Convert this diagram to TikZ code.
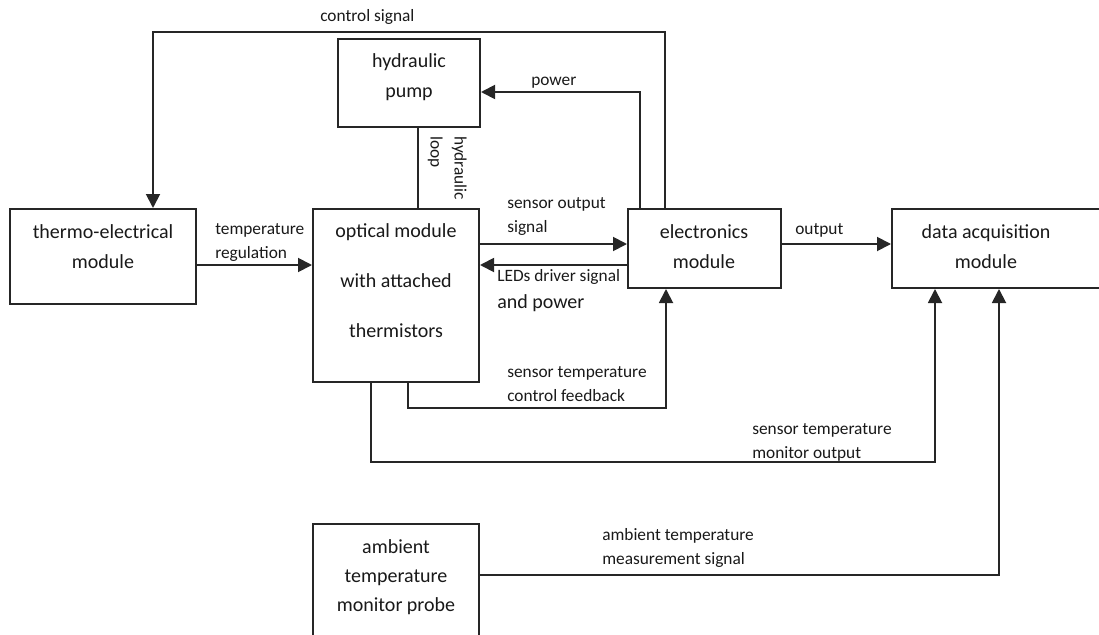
\documentclass[tikz,border=0pt]{standalone}
\usepackage{fontspec}
\setmainfont{Carlito}
\usetikzlibrary{arrows.meta}
\tikzset{
  blk/.style={draw=black!85, line width=1.5pt, fill=white, inner sep=0pt},
  btxt/.style={font=\fontsize{15}{22.5}\selectfont, align=center, text=black!90, inner sep=0pt},
  lbl/.style={font=\fontsize{13}{18}\selectfont, align=left, text=black!90, inner sep=0pt, anchor=west},
  conn/.style={line width=1.4pt, draw=black!85},
  arr/.style={conn, -{Triangle[length=10.5pt,width=10.5pt]}},
}
\begin{document}
\begin{tikzpicture}[x=0.75pt,y=-0.75pt]
\useasboundingbox (0,0) rectangle (1099,635);
% boxes
\node[blk, minimum width=142*0.75pt, minimum height=88*0.75pt] (pump) at (409,83) {};
\node[blk, minimum width=186*0.75pt, minimum height=95*0.75pt] (thermo) at (103,256.5) {};
\node[blk, minimum width=166*0.75pt, minimum height=173*0.75pt] (optical) at (396,295.5) {};
\node[blk, minimum width=153*0.75pt, minimum height=79*0.75pt] (elec) at (704.5,248.5) {};
\node[blk, minimum width=210*0.75pt, minimum height=79*0.75pt] (daq) at (997,248.5) {};
\node[blk, minimum width=166*0.75pt, minimum height=120*0.75pt] (probe) at (396,584) {};
% box texts
\node[btxt] (pumpt) at (409,77) {hydraulic\\pump};
\node[btxt] (thermot) at (103,247) {thermo-electrical\\module};
\node[btxt, font=\fontsize{15}{37.5}\selectfont] (opticalt) at (396,281) {optical module\\with attached\\thermistors};
\node[btxt] (elect) at (704,247) {electronics\\module};
\node[btxt] (daqt) at (986,247) {data acquisition\\module};
\node[btxt, font=\fontsize{15}{21.75}\selectfont] (probet) at (396,577) {ambient\\temperature\\monitor probe};
% coordinates for bends
\coordinate (c1) at (665,32);
\coordinate (c2) at (153,32);
\coordinate (p1) at (640,92);
\coordinate (f1) at (408,408);
\coordinate (f2) at (666,408);
\coordinate (m1) at (371,462);
\coordinate (m2) at (935,462);
\coordinate (a2) at (999,575);
% connectors
\draw[arr] (elec.north -| c1) |- (c2) -- (thermo.north -| c2);
\draw[arr] (elec.north -| p1) |- (pump.east |- p1);
\draw[conn] (pump.south -| 418,0) -- (optical.north -| 418,0);
\draw[arr] (thermo.east |- 0,265) -- (optical.west |- 0,265);
\draw[arr] (optical.east |- 0,244) -- (elec.west |- 0,244);
\draw[arr] (elec.west |- 0,265) -- (optical.east |- 0,265);
\draw[arr] (optical.south -| f1) |- (f2) -- (elec.south -| f2);
\draw[arr] (optical.south -| m1) |- (m2) -- (daq.south -| m2);
\draw[arr] (elec.east |- 0,244) -- (daq.west |- 0,244);
\draw[arr] (probe.east |- a2) -- (a2) -- (daq.south -| a2);
% labels
\node[lbl] (lcs) at (320,17) {control signal};
\node[lbl] (lpw) at (531,83) {power};
\node[lbl, rotate=-90, anchor=north west] (lhl) at (467,136) {hydraulic\\loop};
\node[lbl] (ltr) at (215,242.5) {temperature\\regulation};
\node[lbl] (lso) at (507,217) {sensor output\\signal};
\node[lbl] (lled) at (497,277) {LEDs driver signal};
\node[lbl, font=\fontsize{15}{18}\selectfont] (lap) at (497,303) {and power};
\node[lbl] (lout) at (795,230) {output};
\node[lbl] (lscf) at (507,384.5) {sensor temperature\\control feedback};
\node[lbl] (lsmo) at (752,442) {sensor temperature\\monitor output};
\node[lbl] (lams) at (602,548) {ambient temperature\\measurement signal};
\end{tikzpicture}
\end{document}
